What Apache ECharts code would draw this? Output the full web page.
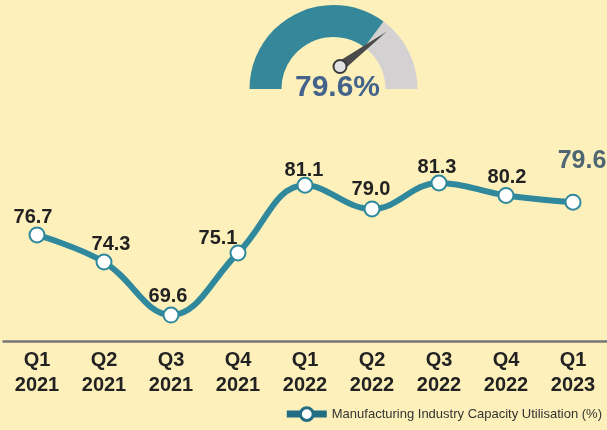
<!DOCTYPE html>
<html>
<head>
<meta charset="utf-8">
<script src="https://cdn.jsdelivr.net/npm/echarts@6/dist/echarts.min.js"></script>
<style>
  html, body { margin: 0; padding: 0; background: #FDF0BA; }
  #main { width: 607px; height: 430px; }
</style>
</head>
<body>
<div id="main"></div>
<script>
// data
var quarters = ['Q1\n2021', 'Q2\n2021', 'Q3\n2021', 'Q4\n2021', 'Q1\n2022', 'Q2\n2022', 'Q3\n2022', 'Q4\n2022', 'Q1\n2023']
var utilisation = [76.7, 74.3, 69.6, 75.1, 81.1, 79.0, 81.3, 80.2, 79.6]
var latestValue = [79.6]
var seriesName = 'Manufacturing Industry Capacity Utilisation (%)'

// label nudges so the numbers sit like the original
var labelShift = [[-4, 5.5], [7, 5], [-3, 3.5], [-20, 8], [-1, 7.5], [-1, 3.5], [-2, 6.5], [1, 4.5], [9, -16]]

var teal = '#2F889C'
var font = 'Liberation Sans, Arial, sans-serif'

var chart = echarts.init(document.getElementById('main'))

var lineData = utilisation.map(function (v, i) {
  var item = { value: v, label: { offset: labelShift[i] } }
  if (i === utilisation.length - 1) {
    // last quarter is highlighted bigger
    item.label.fontSize = 25
    item.label.color = '#4F6673'
  }
  return item
})

var option = {
  backgroundColor: '#FDF0BA',
  animation: false,
  textStyle: { fontFamily: font },
  grid: { left: 3.5, right: 0.5, top: 183, bottom: 89 },
  legend: {
    right: 0,
    bottom: 3,
    itemWidth: 40,
    itemHeight: 16,
    itemGap: 5,
    textStyle: { color: '#333', fontSize: 13, fontFamily: font },
    lineStyle: { color: '#216D83', width: 7 },
    itemStyle: { color: '#fff', borderColor: '#216D83', borderWidth: 3 },
    data: [seriesName]
  },
  xAxis: {
    type: 'category',
    data: quarters,
    boundaryGap: true,
    axisLine: { lineStyle: { color: '#777', width: 2.5 } },
    axisTick: { show: false },
    axisLabel: {
      color: '#222',
      fontSize: 20,
      fontWeight: 'bold',
      lineHeight: 25,
      margin: 7,
      fontFamily: font
    }
  },
  yAxis: {
    type: 'value',
    min: 67.3,
    max: 81.3,
    show: false
  },
  graphic: [
    { type: 'text', left: 258, top: 78, style: { text: '0%', fill: '#EEF4F4', font: '11px Liberation Sans, Arial' } },
    { type: 'text', left: 388, top: 77, style: { text: '100%', fill: '#333', font: '11px Liberation Sans, Arial' } }
  ],
  series: [
    {
      name: seriesName,
      type: 'line',
      data: lineData,
      smooth: 0.4,
      symbol: 'circle',
      symbolSize: 15,
      lineStyle: { color: teal, width: 6 },
      itemStyle: { color: '#fff', borderColor: teal, borderWidth: 2 },
      label: {
        show: true,
        position: 'top',
        distance: 4,
        color: '#222',
        fontSize: 20,
        fontWeight: 'bold',
        fontFamily: font,
        formatter: function (p) { return p.value.toFixed(1) }
      },
      z: 3
    },
    {
      // gauge arc with the big percentage
      type: 'gauge',
      center: [333.5, 89],
      radius: 84,
      startAngle: 180,
      endAngle: 0,
      min: 0,
      max: 100,
      axisLine: {
        lineStyle: {
          width: 32,
          color: [[0.703, '#35879A'], [1, '#D3D1D2']]
        }
      },
      axisTick: { show: false },
      splitLine: { show: false },
      axisLabel: { show: false },
      pointer: { show: false },
      anchor: { show: false },
      title: { show: false },
      detail: {
        formatter: '{value}%',
        offsetCenter: [4, -1],
        fontSize: 30,
        fontWeight: 'bold',
        color: '#44638B',
        fontFamily: font
      },
      data: latestValue
    },
    {
      // needle, pivoted a bit above the arc centre like the original
      type: 'gauge',
      center: [340, 66.5],
      radius: 58,
      startAngle: 180,
      endAngle: 0,
      min: 0,
      max: 100,
      axisLine: { show: false },
      axisTick: { show: false },
      splitLine: { show: false },
      axisLabel: { show: false },
      pointer: { icon: 'triangle', length: '100%', width: 10, itemStyle: { color: '#4A4A4A' } },
      anchor: {
        show: true,
        size: 13,
        showAbove: true,
        itemStyle: { color: '#E2E2E2', borderColor: '#3A3A3A', borderWidth: 2 }
      },
      title: { show: false },
      detail: { show: false },
      data: latestValue
    }
  ]
}

chart.setOption(option)
</script>
</body>
</html>
